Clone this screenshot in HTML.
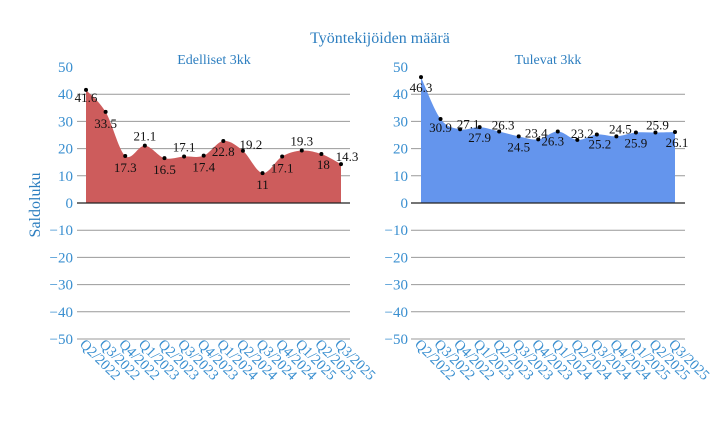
<!DOCTYPE html>
<html><head><meta charset="utf-8"><style>
body{margin:0;background:#fff;width:720px;height:422px;overflow:hidden}
svg{font-family:"Liberation Serif",serif}
</style></head><body>
<svg id="s" width="720" height="422" xmlns="http://www.w3.org/2000/svg">
<text x="380" y="43" text-anchor="middle" font-size="16" fill="#2e7fc0">Työntekijöiden määrä</text>
<text x="214" y="64" text-anchor="middle" font-size="14" fill="#2e7fc0">Edelliset 3kk</text>
<text x="548" y="64" text-anchor="middle" font-size="14" fill="#2e7fc0">Tulevat 3kk</text>
<text transform="translate(40,205) rotate(-90)" text-anchor="middle" font-size="16" fill="#2e7fc0">Saldoluku</text>
</svg>
<script>
const s=document.getElementById('s');const NS='http://www.w3.org/2000/svg';
function el(t,a,txt){const e=document.createElementNS(NS,t);for(const k in a)e.setAttribute(k,a[k]);if(txt!=null)e.textContent=txt;s.appendChild(e);return e;}
const Y=v=>203-2.72*v;
const q=['Q2/2022','Q3/2022','Q4/2022','Q1/2023','Q2/2023','Q3/2023','Q4/2023','Q1/2024','Q2/2024','Q3/2024','Q4/2024','Q1/2025','Q2/2025','Q3/2025'];
function plot(x0,x1,gx0,gx1,tickX,vals,col,pos){
 for(let v=-50;v<=50;v+=10){
  if(v<50&&v!=0)el('line',{x1:gx0,x2:gx1,y1:Y(v),y2:Y(v),stroke:'#999','stroke-width':1});
  el('text',{x:tickX,y:Y(v)+5,'text-anchor':'end','font-size':15,fill:'#3a8fd0'},v<0?'−'+(-v):v);
 }
 const dx=(x1-x0)/(vals.length-1);const P=vals.map((v,i)=>[x0+i*dx,Y(v)]);
 let d='M'+P[0][0]+','+Y(0)+'L'+P[0][0]+','+P[0][1];
 for(let i=0;i<P.length-1;i++){const p0=P[Math.max(i-1,0)],p1=P[i],p2=P[i+1],p3=P[Math.min(i+2,P.length-1)];
  d+='C'+(p1[0]+(p2[0]-p0[0])/6)+','+(p1[1]+(p2[1]-p0[1])/6)+' '+(p2[0]-(p3[0]-p1[0])/6)+','+(p2[1]-(p3[1]-p1[1])/6)+' '+p2[0]+','+p2[1];}
 d+='L'+P[P.length-1][0]+','+Y(0)+'Z';
 el('path',{d:d,fill:col});
 el('line',{x1:gx0,x2:gx1,y1:Y(0),y2:Y(0),stroke:'#222','stroke-width':1.2});
 P.forEach((p,i)=>{el('circle',{cx:p[0],cy:p[1],r:2,fill:'#000'});
  const o=pos[i];el('text',{x:p[0]+o[0],y:p[1]+o[1],'text-anchor':'middle','font-size':13,fill:'#111'},String(vals[i]));
  el('text',{transform:`translate(${p[0]-7},${345}) rotate(45)`,'font-size':14.5,fill:'#3a8fd0'},q[i]);});
}
const B=[0,-5];
plot(86,341,77,350,73,[41.6,33.5,17.3,21.1,16.5,17.1,17.4,22.8,19.2,11,17.1,19.3,18,14.3],'#cd5c5c',
 [[0,12],[0,16],[0,16],B,[0,16],B,[0,16],[0,15],[8,-2],[0,16],[0,16],B,[2,15],[6,-3]]);
plot(421,675,411,685,408,[46.3,30.9,27.1,27.9,26.3,24.5,23.4,26.3,23.2,25.2,24.5,25.9,25.9,26.1],'#6495ed',
 [[0,15],[0,13],[8,-1],[0,15],[4,-2],[0,15],[-2,-2],[-5,14],[5,-2],[3,14],[4,-3],[0,15],[2,-3],[2,15]]);
</script>
</body></html>
